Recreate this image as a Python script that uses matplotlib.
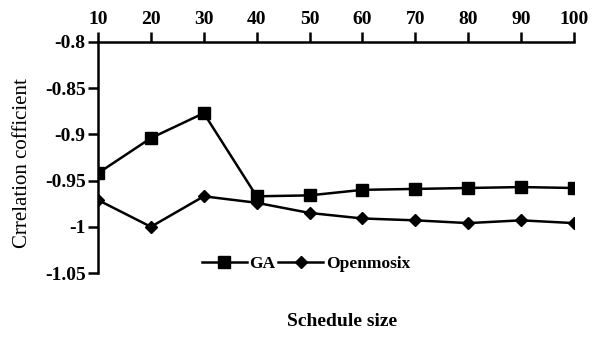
import matplotlib
matplotlib.use("Agg")
import matplotlib.pyplot as plt

plt.rcParams['font.family'] = ['Liberation Serif', 'DejaVu Serif']
plt.rcParams['font.weight'] = 'bold'

sizes = [10, 20, 30, 40, 50, 60, 70, 80, 90, 100]
ga = [-0.942, -0.904, -0.877, -0.967, -0.966, -0.960, -0.959, -0.958, -0.957, -0.958]
openmosix = [-0.971, -1.000, -0.967, -0.974, -0.985, -0.991, -0.993, -0.996, -0.993, -0.996]
yticks = [-1.05, -1, -0.95, -0.9, -0.85, -0.8]
ytick_labels = ["-1.05", "-1", "-0.95", "-0.9", "-0.85", "-0.8"]

fig = plt.figure(figsize=(5.94, 3.37), dpi=100)
ax = fig.add_axes([98/594, 64/337, 476/594, 231/337])

ax.plot(sizes, ga, color='black', marker='s', markersize=8, linewidth=1.8, label='GA')
ax.plot(sizes, openmosix, color='black', marker='D', markersize=6, linewidth=1.8, label='Openmosix')

ax.set_xlim(10, 100)
ax.set_ylim(-1.05, -0.8)
ax.set_xticks(sizes)
ax.set_yticks(yticks)
ax.set_yticklabels(ytick_labels)

ax.xaxis.tick_top()
ax.spines['right'].set_visible(False)
ax.spines['bottom'].set_visible(False)
for s in ['left', 'top']:
    ax.spines[s].set_linewidth(1.8)
ax.tick_params(axis='both', direction='out', length=7, width=1.8, labelsize=14)
ax.tick_params(axis='x', pad=3)
ax.tick_params(axis='y', pad=2)

ax.set_ylabel("Crrelation cofficient", fontsize=15)
ax.yaxis.set_label_coords(32/594, 1 - 163/337, transform=fig.transFigure)
fig.text(342/594, 1 - 322/337, "Schedule size", ha='center', va='center', fontsize=14)

ax.legend(loc='center', ncol=2, frameon=False, fontsize=12.5, handlelength=2.6,
          handletextpad=0.15, columnspacing=0.15)
leg = ax.get_legend()
leg.set_bbox_to_anchor((306/594, 1 - 264/337), transform=fig.transFigure)

plt.savefig("out.png", dpi=100)
